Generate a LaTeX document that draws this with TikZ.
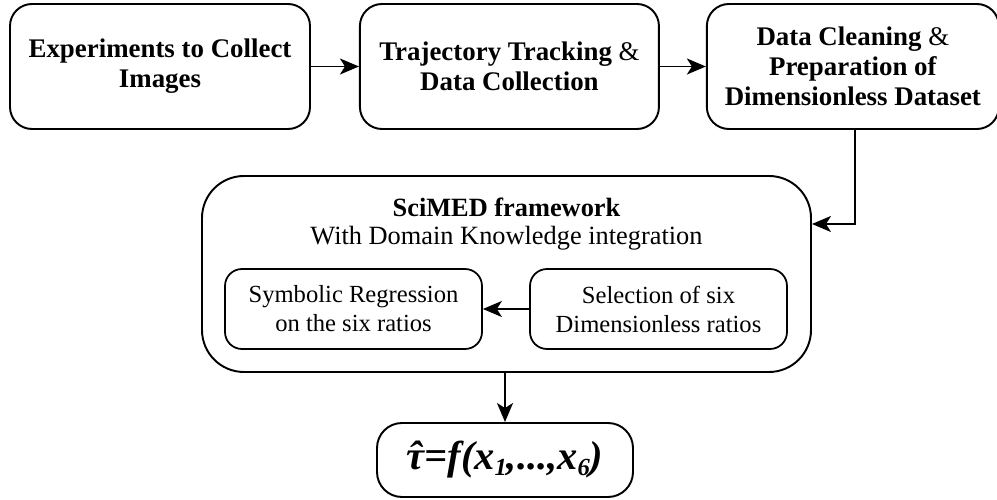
\documentclass[tikz,border=0pt]{standalone}
\usepackage{fontspec}
\setmainfont{Liberation Serif}
\usetikzlibrary{positioning, arrows.meta}

\newcommand{\idx}[1]{\raisebox{-0.3ex}{\fontsize{14}{14}\selectfont #1}}

\begin{document}
\begin{tikzpicture}[
    stage/.style={draw, rounded corners=0.44cm, line width=1.1pt, minimum height=2.5cm, inner sep=2pt, align=center, font=\fontsize{15.3}{17}\selectfont\bfseries},
    frame/.style={draw, rounded corners=0.84cm, line width=1.1pt, minimum width=12.18cm, minimum height=3.92cm},
    substage/.style={draw, rounded corners=0.34cm, line width=1pt, minimum width=5.14cm, minimum height=1.6cm, inner sep=2pt, align=center, font=\fontsize{14}{16.5}\selectfont},
    result/.style={draw, rounded corners=0.5cm, line width=1.1pt, minimum width=5.12cm, minimum height=1.48cm, font=\fontsize{23}{23}\selectfont\bfseries\itshape},
    flow/.style={-{Stealth[length=0.38cm, width=0.32cm, inset=0.1cm]}, line width=1.1pt}
]
    \useasboundingbox (0,0) rectangle (19.94,-10);

    % Nodes
    \node[stage, minimum width=6cm] (images) at (3.2,-1.33) {Experiments to Collect\\Images};
    \node[stage, minimum width=5.98cm, right=0.96cm of images] (track) {Trajectory Tracking \textmd{\&}\\Data Collection};
    \node[stage, minimum width=5.84cm, right=0.92cm of track] (clean) {Data Cleaning \textmd{\&}\\Preparation of\\Dimensionless Dataset};

    \node[frame] (scimed) at (10.13,-5.48) {};
    \node[align=center, font=\fontsize{15}{16}\selectfont] (title) at (10.13,-4.48) {\textbf{SciMED framework}\\With Domain Knowledge integration};
    \node[substage] (symreg) at (7.07,-6.18) {Symbolic Regression\\on the six ratios};
    \node[substage] (select) at (13.17,-6.18) {Selection of six\\Dimensionless ratios};

    \node[result] (law) at (10.1,-9.2) {\accent"02C6 τ=f(x\idx{1},...,x\idx{6})};

    % Edges
    \coordinate (turn) at (17.1,-4.48);
    \draw[flow] (images) -- (track);
    \draw[flow] (track) -- (clean);
    \draw[flow] (clean.south -| turn) -- (turn) -- (turn -| scimed.east);
    \draw[flow] (select) -- (symreg);
    \draw[flow] (scimed.south -| law.north) -- (law);
\end{tikzpicture}
\end{document}
